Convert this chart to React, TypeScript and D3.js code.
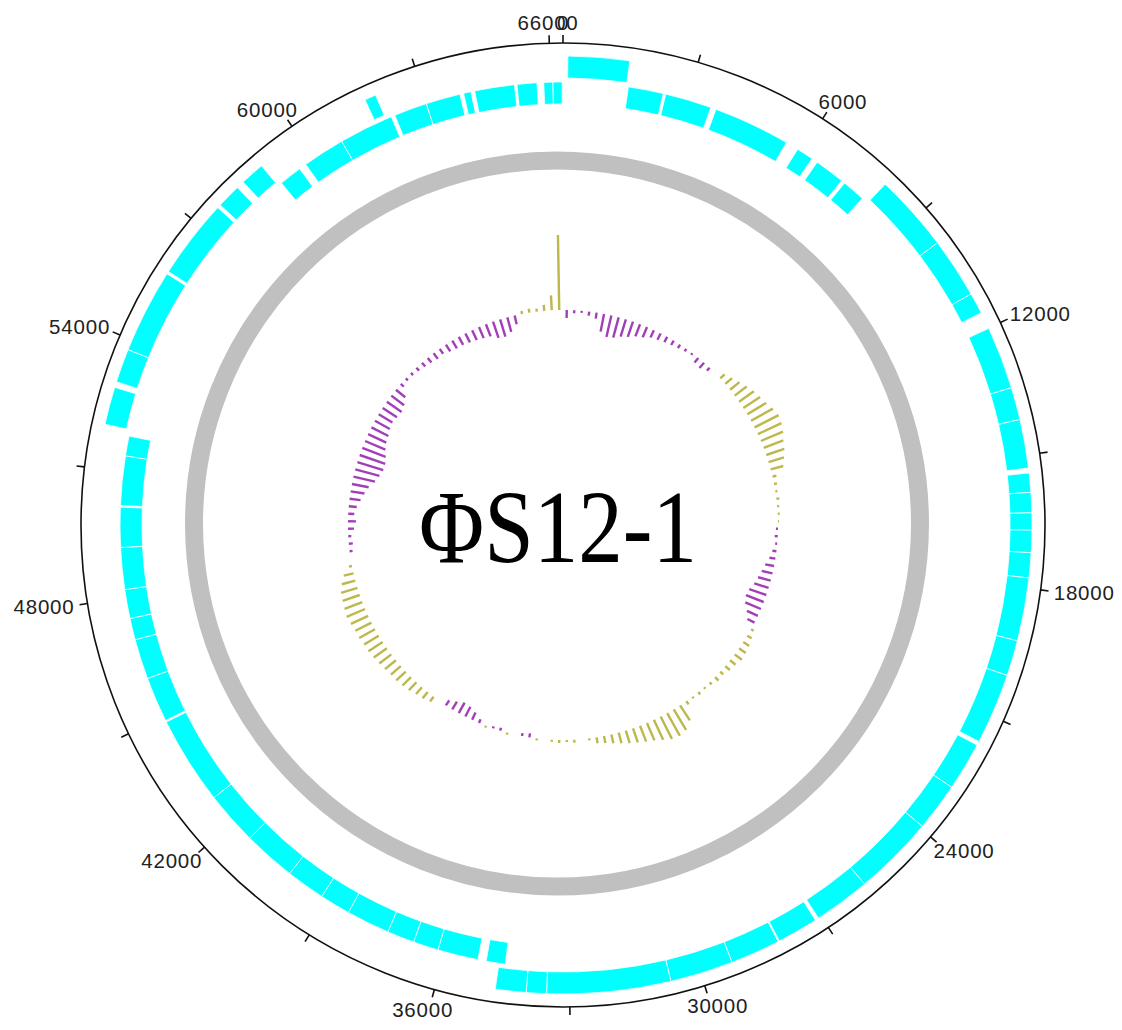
import React from "react";
import * as d3 from "d3";

const GENOME_LENGTH = 66300;
const TICK_STEP = 3000;
const LABEL_STEP = 6000;
const TITLE = "ΦS12-1";

// genes: [start, end, row] row 1 = outer track, row 0 = inner track
const geneStarts = [
  110, 7990, 9760, 11140, 12010, 13440, 14180, 15400, 15840, 16300, 16690, 17200, 17770, 19210,
  20020, 21730, 22840, 23940, 25780, 27150, 28120, 29260, 30700, 33520, 33980,
  52010, 53000, 53770, 55750, 57650, 58380, 61700,
  1565, 2470, 3720, 5890, 6450, 7270, 34530, 35190, 36170, 36780, 37440, 38490, 39230,
  40170, 41440, 42730, 44900, 45990, 46960, 47480, 48180, 49190, 50190, 51380,
  59030, 59760, 60780, 62190, 62990, 63910, 64180, 65200, 65840, 66060,
];
const geneEnds = [
  1510, 9760, 11140, 11620, 13440, 14180, 15290, 15840, 16300, 16690, 17200, 17770, 19210, 20020,
  21640, 22840, 23940, 25780, 27070, 28090, 29260, 30700, 33520, 33980, 34680,
  52870, 53770, 55690, 57570, 58200, 58930, 61960,
  2410, 3590, 5580, 6300, 7180, 7830, 34990, 36170, 36780, 37440, 38490, 39230, 40170,
  41440, 42730, 44860, 45990, 46960, 47480, 48180, 49190, 50150, 51380, 51860,
  59580, 60780, 62100, 62990, 63820, 64090, 65140, 65680, 66060, 66280,
];
const geneRows = [
  1, 1, 1, 1, 1, 1, 1, 1, 1, 1, 1, 1, 1, 1,
  1, 1, 1, 1, 1, 1, 1, 1, 1, 1, 1,
  1, 1, 1, 1, 1, 1, 1,
  0, 0, 0, 0, 0, 0, 0, 0, 0, 0, 0, 0, 0,
  0, 0, 0, 0, 0, 0, 0, 0, 0, 0, 0,
  0, 0, 0, 0, 0, 0, 0, 0, 0, 0,
];

// GC skew per window (180 windows around the genome)
const gcSkew = [
  -0.08, -0.03, -0.02, -0.04, -0.06, -0.18, -0.22, -0.21, -0.18, -0.16,
  -0.13, -0.11, -0.08, -0.07, -0.06, -0.05, -0.04, -0.03, -0.02, -0.06,
  -0.07, -0.04, 0.0, 0.06, 0.09, 0.12, 0.15, 0.18, 0.2, 0.22,
  0.25, 0.27, 0.26, 0.24, 0.21, 0.19, 0.16, 0.13, 0.04, 0.03,
  0.02, 0.03, 0.02, 0.02, 0.01, -0.02, -0.03, -0.02, -0.04, -0.06,
  -0.09, -0.11, -0.13, -0.15, -0.18, -0.19, -0.17, -0.12, -0.08, 0.03,
  0.05, 0.07, 0.08, 0.09, 0.07, 0.06, 0.04, 0.05, 0.03, 0.02,
  0.03, 0.02, 0.04, 0.18, 0.24, 0.26, 0.25, 0.22, 0.19, 0.17,
  0.15, 0.13, 0.11, 0.09, 0.07, 0.06, 0.02, 0.0, 0.03, 0.02,
  0.03, 0.02, 0.0, 0.02, -0.04, -0.03, 0.0, 0.02, -0.03, -0.02,
  0.02, -0.04, -0.08, -0.11, -0.12, -0.09, -0.06, 0.0, 0.06, 0.08,
  0.09, 0.11, 0.12, 0.13, 0.13, 0.14, 0.15, 0.16, 0.17, 0.17,
  0.18, 0.18, 0.19, 0.2, 0.19, 0.18, 0.17, 0.14, 0.1, 0.03,
  0.0, -0.03, -0.04, -0.03, -0.06, -0.08, -0.06, -0.08, -0.11, -0.14,
  -0.17, -0.22, -0.25, -0.27, -0.27, -0.25, -0.22, -0.2, -0.19, -0.17,
  -0.16, -0.17, -0.18, -0.16, -0.12, -0.04, -0.03, -0.03, -0.04, -0.05,
  -0.06, -0.07, -0.06, -0.08, -0.09, -0.09, -0.1, -0.11, -0.12, -0.13,
  -0.17, -0.18, -0.15, -0.09, 0.03, 0.04, 0.03, 0.06, 0.15, 0.75,
];

const W = 1122;
const H = 1030;
const CX = 563;
const CY = 525;
const R_AXIS = 482;
const RING_CX = 557;
const RING_CY = 523.5;
const RING_R = 363;
const SKEW_R0 = 215;
const SKEW_SCALE = 100;

const ROW_RADII = [
  [421, 443],
  [447, 469],
];

export default function App() {
  const angle = d3.scaleLinear().domain([0, GENOME_LENGTH]).range([0, 2 * Math.PI]);
  const arc = d3.arc();

  const genes = geneStarts.map((s, i) => ({ s, e: geneEnds[i], row: geneRows[i] }));

  const windowSize = GENOME_LENGTH / gcSkew.length;
  const skewScale = (v: number) => v * SKEW_SCALE;

  const ticks = d3.range(0, GENOME_LENGTH, TICK_STEP);
  const labels = d3.range(0, GENOME_LENGTH, LABEL_STEP);

  const charW = 12.4;
  const capH = 15;

  return (
    <svg
      width={W}
      height={H}
      style={{ position: "absolute", left: 0, top: 0, background: "#fff" }}
    >
      <rect width={W} height={H} fill="#fff" />
      {/* gray ring */}
      <circle cx={RING_CX} cy={RING_CY} r={RING_R} fill="none" stroke="#c0c0c0" strokeWidth={18} />

      <g transform={`translate(${CX},${CY})`}>
        {/* genes */}
        {genes.map((g, i) => (
          <path
            key={"g" + i}
            d={
              arc({
                innerRadius: ROW_RADII[g.row][0],
                outerRadius: ROW_RADII[g.row][1],
                startAngle: angle(g.s),
                endAngle: angle(g.e),
              } as any) as string
            }
            fill="#00ffff"
            stroke="#ffffff"
            strokeWidth={0.8}
          />
        ))}

        {/* GC skew */}
        {gcSkew.map((v, i) => {
          const mid = (i + 0.5) * windowSize;
          const h = skewScale(v);
          if (Math.abs(h) < 0.5) return null;
          const a = angle(mid);
          const s = Math.sin(a);
          const c = -Math.cos(a);
          const r1 = SKEW_R0;
          const r2 = SKEW_R0 + h;
          return (
            <line
              key={"s" + i}
              x1={r1 * s}
              y1={r1 * c}
              x2={r2 * s}
              y2={r2 * c}
              stroke={v > 0 ? "#bdb84a" : "#a23fb8"}
              strokeWidth={2.4}
            />
          );
        })}

        {/* axis circle */}
        <circle r={R_AXIS} fill="none" stroke="#111" strokeWidth={1.6} />
        {ticks.map((t) => {
          const a = angle(t);
          const s = Math.sin(a);
          const c = -Math.cos(a);
          return (
            <line
              key={"t" + t}
              x1={R_AXIS * s}
              y1={R_AXIS * c}
              x2={(R_AXIS + 8) * s}
              y2={(R_AXIS + 8) * c}
              stroke="#111"
              strokeWidth={1.6}
            />
          );
        })}
        {labels.map((t) => {
          const a = angle(t);
          const s = Math.sin(a);
          const c = Math.cos(a);
          const txt = String(t);
          const w = txt.length * charW;
          const px = (R_AXIS + 13) * s;
          const py = -(R_AXIS + 13) * c;
          const x = px + (s * w) / 2;
          const y = py + (capH * (1 - c)) / 2;
          return (
            <text
              key={"l" + t}
              x={x}
              y={y}
              textAnchor="middle"
              fontFamily="Liberation Sans, Arial, sans-serif"
              fontSize={20.5}
              letterSpacing={0.8}
              fill="#222"
            >
              {txt}
            </text>
          );
        })}
      </g>

      <text
        x={558}
        y={562}
        textAnchor="middle"
        fontFamily="Liberation Serif, Times New Roman, serif"
        fontSize={104}
        textLength={278}
        lengthAdjust="spacingAndGlyphs"
        fill="#000"
      >
        {TITLE}
      </text>
    </svg>
  );
}
